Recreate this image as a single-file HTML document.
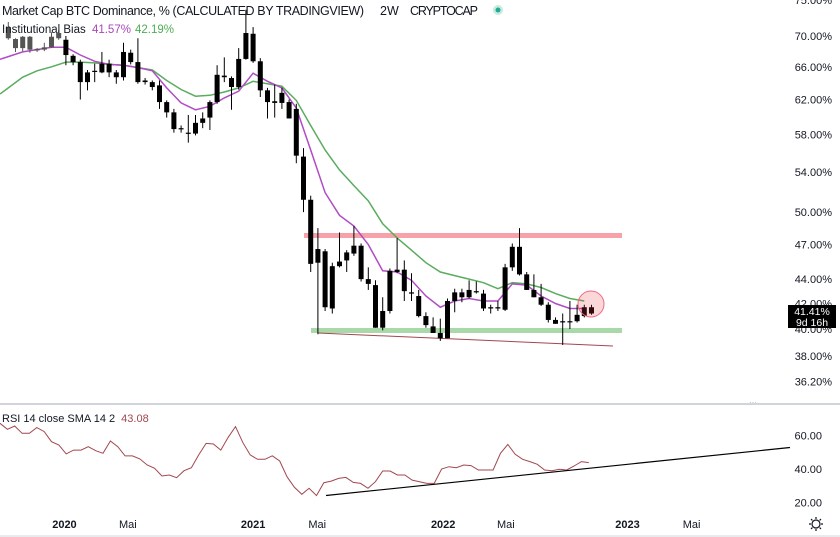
<!DOCTYPE html>
<html><head><meta charset="utf-8">
<style>
html,body{margin:0;padding:0;background:#fff;}
body{width:840px;height:537px;overflow:hidden;font-family:"Liberation Sans",sans-serif;}
svg{display:block}
text{font-family:"Liberation Sans",sans-serif;}
</style></head>
<body>
<svg id="chart" width="840" height="537" viewBox="0 0 840 537">
  <g id="bands">
    <rect x="304" y="233" width="318" height="5" fill="#f7a1a8"/>
    <rect x="311" y="328" width="311" height="5" fill="#a9d8a9"/>
    <line x1="318" y1="333" x2="613" y2="346" stroke="#a2474f" stroke-width="1"/>
  </g>
  <g id="mas"></g>
  <g id="candles"></g>
  <circle cx="591" cy="304" r="13" fill="rgba(242,54,69,0.2)" stroke="#f06a7a" stroke-width="1"/>
  <g id="yaxis"></g>
  <g>
    <rect x="788" y="305" width="48" height="23" fill="#000"/>
    <text x="812" y="315" font-size="10.5" fill="#fff" text-anchor="middle">41.41%</text>
    <text x="812" y="326" font-size="10.5" fill="#fff" text-anchor="middle">9d 16h</text>
  </g>
  <text y="15" font-size="12.5" fill="#131722"><tspan x="2" textLength="362">Market Cap BTC Dominance, % (CALCULATED BY TRADINGVIEW)</tspan><tspan x="380">2W</tspan><tspan x="410" textLength="68">CRYPTOCAP</tspan></text>
  <circle cx="498" cy="10" r="5" fill="#c8ebe0"/>
  <circle cx="498" cy="10" r="2.5" fill="#22ab94"/>
  <text x="2" y="33" font-size="11.5" fill="#131722">Institutional Bias <tspan fill="#ab47bc" dx="3">41.57%</tspan><tspan fill="#4caf50" dx="4">42.19%</tspan></text>
  <line x1="0" y1="404" x2="840" y2="404" stroke="#d1d4dc" stroke-width="2"/>
  <text x="749" y="405" font-size="8" fill="#aaa">···</text>
  <text x="2" y="422" font-size="11" fill="#131722">RSI 14 close SMA 14 2 <tspan fill="#a2474f" dx="3">43.08</tspan></text>
  <g id="rsi"></g>
  <line x1="326" y1="495.5" x2="790" y2="447.5" stroke="#000" stroke-width="1.2"/>
  <g id="xaxis"></g>
  <line x1="0" y1="536" x2="840" y2="536" stroke="#d1d4dc" stroke-width="1"/>
  <g transform="translate(816,524)">
    <circle r="4" fill="none" stroke="#131722" stroke-width="1.2"/>
    <path d="M0,-7V-5M0,5V7M-7,0H-5M5,0H7M-5,-5L-3.6,-3.6M3.6,3.6L5,5M-5,5L-3.6,3.6M3.6,-3.6L5,-5" stroke="#131722" stroke-width="1.2"/>
  </g>
</svg>
<script>
const openV=[71.2,69.6,69.9,69.9,68.3,68.5,69.9,70.4,69.5,67.4,66.6,65.3,65.5,66.4,66.4,65.3,67.9,67.8,66.6,64.3,64.1,63.7,61.7,60.5,58.7,58.2,59.3,59.8,61.7,65.0,64.9,64.6,67.0,70.4,70.3,66.7,63.1,61.8,62.8,61.7,60.9,55.6,51.2,46.6,46.4,45.1,45.5,46.3,46.9,46.9,44.0,43.5,41.4,44.7,44.8,44.8,42.9,42.6,41.0,40.2,39.7,42.2,42.9,42.9,43.1,43.0,42.8,41.7,41.7,45.0,46.8,46.8,44.4,43.1,42.5,41.9,40.7,40.6,40.6,41.1,41.7,41.7];
const closeV=[69.7,68.4,68.4,68.2,68.1,68.2,68.5,69.7,67.5,66.6,64.1,64.1,65.4,65.3,65.3,64.7,64.7,66.6,64.1,64.1,63.5,61.7,60.5,58.6,58.6,58.1,58.1,59.3,59.9,61.7,64.7,63.5,63.5,67.0,66.7,63.1,61.7,61.6,61.6,59.8,55.7,51.2,45.3,45.4,41.7,41.6,45.1,45.6,46.2,44.0,43.6,40.1,40.1,41.4,44.6,43.0,42.8,41.0,40.3,39.7,39.3,39.3,42.2,42.5,42.5,42.9,41.6,41.6,41.6,41.5,45.0,44.4,43.1,42.5,41.9,40.7,40.4,40.6,40.6,40.6,41.0,41.2];
const highV=[71.9,69.7,70.0,70.0,68.4,69.1,70.5,70.8,70.0,67.6,66.9,65.6,66.4,67.9,66.9,65.6,69.1,68.2,69.7,64.6,64.3,64.3,61.9,60.9,59.0,60.2,60.2,60.5,61.9,66.2,67.2,64.8,68.4,73.6,71.2,67.1,63.4,63.8,63.4,62.0,61.5,56.5,51.6,48.5,46.6,45.4,48.1,46.5,48.7,47.1,45.0,43.9,42.5,44.9,47.6,45.6,44.5,43.1,41.3,40.9,40.8,42.4,43.2,43.2,43.9,43.8,43.1,41.9,42.2,45.3,47.1,48.5,44.6,44.4,43.6,42.1,40.9,41.2,42.2,41.9,41.9,41.9];
const lowV=[69.5,67.9,68.0,67.8,67.9,68.0,68.4,69.5,66.2,66.2,62.0,63.1,64.1,65.2,64.7,63.9,64.3,66.3,63.9,63.8,63.1,60.9,59.9,58.2,58.2,57.1,57.9,58.7,58.5,61.5,64.1,60.8,63.2,66.9,66.5,62.3,59.8,59.9,60.9,59.8,54.9,50.0,44.6,39.6,41.4,41.2,45.0,44.6,46.0,43.8,43.1,40.1,39.9,41.2,44.5,42.2,42.2,40.9,40.1,39.7,39.1,39.3,41.3,42.1,42.4,42.8,41.4,41.2,41.4,41.4,44.7,44.3,43.1,42.5,41.8,40.5,40.4,38.8,40.0,40.5,40.9,41.1];
const maIndex=[0,2,4,6,8,10,12,14,16,18,20,22,24,26,28,30,32,34,36,38,40,42,44,46,48,50,52,54,56,58,60,62,64,66,68,70,72,74,76,78,80];
const fastMA=[67.3,67.9,68.2,68.5,68.5,67.5,66.7,66.3,66.2,65.9,65.5,63.4,61.6,60.8,61.2,62.2,63.0,65.2,64.2,63.4,61.0,56.3,51.9,49.7,48.7,47.0,44.7,44.6,43.9,42.6,41.7,42.2,42.4,42.2,42.2,43.6,43.5,42.6,42.0,41.6,41.6];
const slowMA=[63.4,64.7,65.5,66.0,66.6,66.6,66.5,66.3,66.2,65.9,65.6,64.3,63.2,62.4,62.5,62.9,63.4,64.2,63.9,63.6,61.9,59.0,56.3,54.2,52.6,51.1,48.9,47.6,46.5,45.4,44.6,44.3,44.0,43.7,43.2,43.7,43.6,43.3,42.8,42.4,42.2];
const rsiV=[67.3,63.7,65.7,61.3,61.3,64.7,62.3,56.3,54.3,49.0,51.3,51.3,53.3,50.9,49.4,56.7,53.3,47.8,47.8,46.0,42.4,40.4,35.8,36.4,34.8,39.0,40.8,48.4,55.3,54.9,51.3,58.9,65.3,55.7,48.4,45.8,45.8,47.9,44.8,35.4,29.1,24.9,28.5,24.1,31.8,32.8,34.4,35.0,32.0,31.4,28.5,32.4,38.8,38.8,36.4,36.4,33.4,32.4,31.4,31.4,40.0,41.4,40.8,42.4,42.0,39.4,39.4,39.4,49.4,54.7,48.8,45.8,44.4,42.8,39.4,39.0,39.8,39.4,41.8,44.4,43.8];
const priceTicks=[75,70,66,62,58,54,50,47,44,42,40,38,36.2];
const rsiTicks=[60,40,20];
const timeLabels=["2020","Mai","2021","Mai","2022","Mai","2023","Mai"];
const timeIdx=[7.8,16.6,34,42.9,60.4,69.1,86,94.9];

const NS="http://www.w3.org/2000/svg";
const xOf=i=>8.3+i*7.2;
const yOf=v=>36+(Math.log(70)-Math.log(v))*523.6;
const rsiX=j=>j*7.36;
const rsiY=v=>469-(v-40)*1.675;
function mk(tag,attrs,parent){const e=document.createElementNS(NS,tag);for(const k in attrs)e.setAttribute(k,attrs[k]);parent.appendChild(e);return e;}

const cg=document.getElementById('candles');
for(let i=0;i<openV.length;i++){
  const x=xOf(i);
  const g=mk('g',{},cg);
  
  
  const top=yOf(Math.max(openV[i],closeV[i])), bot=yOf(Math.min(openV[i],closeV[i]));
  const col=i<8?'#555':'#000';
  mk('line',{x1:x,x2:x,y1:yOf(highV[i]),y2:yOf(lowV[i]),stroke:col,'stroke-width':1},g);
  mk('rect',{x:x-2.5,y:top,width:5,height:Math.max(1.2,bot-top),fill:col},g);
}
const mg=document.getElementById('mas');
function maPath(vals,color,name){
  let d='';
  vals.forEach((v,k)=>{d+=(k?'L':'M')+xOf(maIndex[k]).toFixed(1)+','+yOf(v).toFixed(1);});
  const x0=xOf(maIndex[0]),x1=xOf(maIndex[1]),y0=yOf(vals[0]),y1=yOf(vals[1]);
  d='M0,'+(y0-(y1-y0)/(x1-x0)*x0).toFixed(1)+'L'+d.slice(1);
  const p=mk('path',{d:d,fill:'none',stroke:color,'stroke-width':1.5},mg);
  
  
}
maPath(slowMA,'#5aac5e','slow-ma-line');
maPath(fastMA,'#b04cc4','fast-ma-line');

const rg=document.getElementById('rsi');
let rd='';
rsiV.forEach((v,j)=>{rd+=(j?'L':'M')+rsiX(j).toFixed(1)+','+rsiY(v).toFixed(1);});
const rp=mk('path',{d:rd,fill:'none',stroke:'#a2474f','stroke-width':1},rg);


rsiTicks.forEach(t=>{
  const tx=mk('text',{x:822,y:rsiY(t)+4,'font-size':11,fill:'#131722','text-anchor':'end'},rg);
  
  
  tx.textContent=t.toFixed(2);
});
const yg=document.getElementById('yaxis');
priceTicks.forEach(t=>{
  const tx=mk('text',{x:832,y:yOf(t)+4,'font-size':11,fill:'#131722','text-anchor':'end'},yg);
  
  
  tx.textContent=t.toFixed(2)+'%';
});
const xg=document.getElementById('xaxis');
timeLabels.forEach((t,k)=>{
  const bold=t!=='Mai';
  const tx=mk('text',{x:xOf(timeIdx[k]),y:528,'font-size':11,fill:'#131722','text-anchor':'middle','font-weight':bold?'bold':'normal'},xg);
  
  
  tx.textContent=t;
});
</script>
</body></html>
